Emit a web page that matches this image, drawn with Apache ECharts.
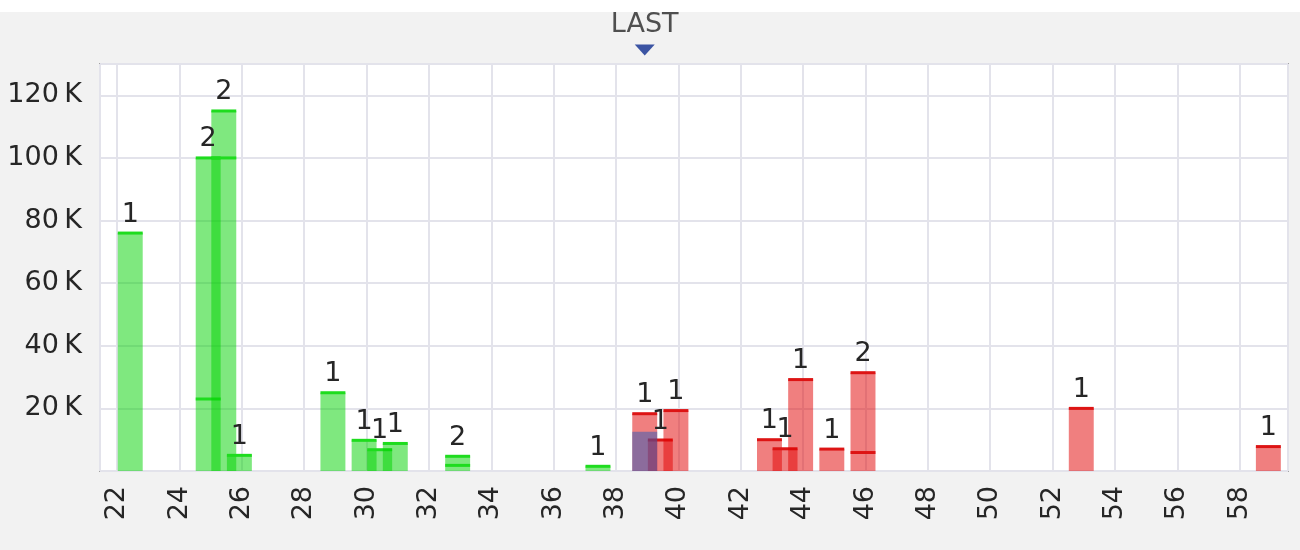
<!DOCTYPE html>
<html>
<head>
<meta charset="utf-8">
<script src="https://cdn.jsdelivr.net/npm/echarts@6/dist/echarts.min.js"></script>
<style>
html,body{margin:0;padding:0;background:#fff;}
#c{width:1300px;height:550px;}
</style>
</head>
<body>
<div id="c"></div>
<script>
// ---- data ----
const bidPrices = [22.5, 25.0, 25.5, 26.0, 29.0, 30.0, 30.5, 31.0, 33.0, 37.5];
const bidSizes  = [76000, 100000, 115000, 5000, 25000, 9800, 6800, 8800, 4700, 1500];
const bidInner  = [null, 23000, 100000, null, null, null, null, null, 1800, null];
const bidCounts = [1, 2, 2, 1, 1, 1, 1, 1, 2, 1];

const askPrices = [39.0, 39.5, 40.0, 43.0, 43.5, 44.0, 45.0, 46.0, 53.0, 59.0];
const askSizes  = [18300, 9900, 19300, 10000, 7100, 29200, 7000, 31400, 20000, 7800];
const askInner  = [null, null, null, null, null, null, null, 5900, null, null];
const askCounts = [1, 1, 1, 1, 1, 1, 1, 2, 1, 1];

const lastPrice = 39.0;
const lastSize = 12500;
const lastLabel = 'LAST';

const xTickLabels = [22,24,26,28,30,32,34,36,38,40,42,44,46,48,50,52,54,56,58];
const yTickLabels = [20000,40000,60000,80000,100000,120000];

// ---- rendering ----
const TEXT = '#262626';
const FONT = '27px "DejaVu Sans"';
const SHIFT = -0.08, HALF = 0.4;

function toRows(p, s, inner, c) {
  return p.map((v, i) => [v, s[i], inner[i] == null ? -1 : inner[i], c[i]]);
}

function barRenderer(fill, line, withLine, withLabel) {
  return function (params, api) {
    const x = api.value(0), v = api.value(1), inner = api.value(2), cnt = api.value(3);
    const tl = api.coord([x + SHIFT - HALF, v]);
    const br = api.coord([x + SHIFT + HALF, 0]);
    const children = [{
      type: 'rect',
      shape: { x: tl[0], y: tl[1], width: br[0] - tl[0], height: br[1] - tl[1] },
      style: { fill: fill }
    }];
    if (withLine) {
      children.push({ type: 'rect', shape: { x: tl[0], y: tl[1] - 1.5, width: br[0] - tl[0], height: 3 }, style: { fill: line } });
      if (inner > 0) {
        const iy = api.coord([x, inner])[1];
        children.push({ type: 'rect', shape: { x: tl[0], y: iy - 1.5, width: br[0] - tl[0], height: 3 }, style: { fill: line } });
      }
    }
    if (withLabel) {
      children.push({ type: 'text', z2: 10, style: { text: String(cnt), x: (tl[0] + br[0]) / 2, y: tl[1] - 5, align: 'center', verticalAlign: 'bottom', font: FONT, fill: TEXT } });
    }
    return { type: 'group', children: children };
  };
}

const chart = echarts.init(document.getElementById('c'), null, { renderer: 'canvas' });
chart.setOption({
  animation: false,
  backgroundColor: '#f2f2f2',
  textStyle: { fontFamily: 'DejaVu Sans' },
  graphic: [{ type: 'rect', shape: { x: 0, y: 0, width: 1300, height: 12 }, style: { fill: '#ffffff' }, z: -10 }],
  grid: { left: 100, top: 64, right: 12, bottom: 79, show: true, backgroundColor: '#ffffff', borderColor: '#a3a3a3', borderWidth: 2 },
  xAxis: {
    type: 'value', min: 21.45, max: 59.55, minInterval: 2, maxInterval: 2, splitNumber: 19,
    axisLine: { show: false }, axisTick: { show: false },
    splitLine: { show: true, lineStyle: { color: '#e3e3eb', width: 2 } },
    axisLabel: {
      rotate: 90, margin: 15, color: TEXT, fontSize: 27, fontFamily: 'DejaVu Sans',
      formatter: v => xTickLabels.indexOf(Math.round(v * 100) / 100) >= 0 ? String(v) : ''
    }
  },
  yAxis: {
    type: 'value', min: 0, max: 130000, minInterval: 20000, maxInterval: 20000,
    axisLine: { show: false }, axisTick: { show: false },
    splitLine: { show: true, lineStyle: { color: '#e3e3eb', width: 2 } },
    axisLabel: {
      margin: 18, color: TEXT, fontSize: 27, fontFamily: 'DejaVu Sans',
      formatter: v => yTickLabels.indexOf(v) >= 0 ? (v / 1000) + '\u2009K' : ''
    }
  },
  series: [
    { type: 'custom', name: 'bid', renderItem: barRenderer('rgba(0,210,0,0.5)', '#1edc1e', true, true), data: toRows(bidPrices, bidSizes, bidInner, bidCounts), z: 2 },
    { type: 'custom', name: 'ask', renderItem: barRenderer('rgba(225,0,0,0.5)', '#dd1414', true, true), data: toRows(askPrices, askSizes, askInner, askCounts), z: 2 },
    { type: 'custom', name: 'last', renderItem: barRenderer('rgba(40,90,185,0.5)', null, false, false), data: [[lastPrice, lastSize, -1, 0]], z: 3 },
    {
      type: 'scatter', name: 'marker', clip: false, silent: true,
      data: [[lastPrice + SHIFT, 130000]],
      symbol: 'triangle', symbolRotate: 180, symbolSize: [20, 11], symbolOffset: [0, -14],
      itemStyle: { color: '#0c2c8e' },
      label: { show: true, position: 'top', distance: 6, formatter: lastLabel, color: TEXT, fontSize: 27, fontFamily: 'DejaVu Sans' },
      z: 5
    }
  ]
});
</script>
</body>
</html>
